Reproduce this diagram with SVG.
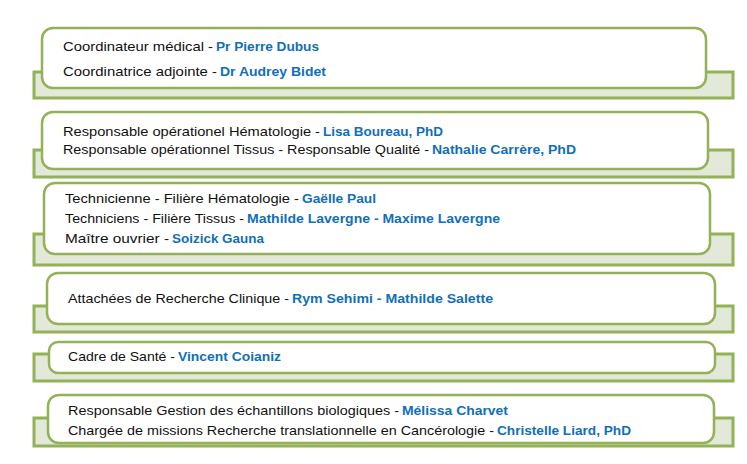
<svg xmlns="http://www.w3.org/2000/svg" width="747" height="464" viewBox="0 0 747 464">
<style>
.back{fill:#E3E9D8;stroke:#93B157;stroke-width:3}
.front{fill:#FFFFFF;stroke:#93B157;stroke-width:2.5}
text{font-family:"Liberation Sans",Arial,sans-serif;font-size:13.5px;fill:#111111}
.b{font-weight:bold;fill:#106FBB}
</style>
<rect width="747" height="464" fill="#FFFFFF"/>
<g id="connectors"></g>
<g id="node1">
<rect class="back" x="34" y="72" width="699" height="26"/>
<rect class="front" x="42" y="28" width="664" height="60" rx="11"/>
<text x="63" y="51" textLength="150" lengthAdjust="spacingAndGlyphs">Coordinateur médical -</text>
<text class="b" x="216" y="51" textLength="103" lengthAdjust="spacingAndGlyphs">Pr Pierre Dubus</text>
<text x="63" y="76" textLength="154" lengthAdjust="spacingAndGlyphs">Coordinatrice adjointe -</text>
<text class="b" x="220" y="76" textLength="106" lengthAdjust="spacingAndGlyphs">Dr Audrey Bidet</text>
</g>
<g id="node2">
<rect class="back" x="34" y="150" width="699" height="27"/>
<rect class="front" x="42" y="112" width="666" height="57" rx="11"/>
<text x="63" y="136" textLength="257" lengthAdjust="spacingAndGlyphs">Responsable opérationel Hématologie -</text>
<text class="b" x="323" y="136" textLength="120" lengthAdjust="spacingAndGlyphs">Lisa Boureau, PhD</text>
<text x="63" y="154" textLength="366" lengthAdjust="spacingAndGlyphs">Responsable opérationnel Tissus - Responsable Qualité -</text>
<text class="b" x="432" y="154" textLength="144" lengthAdjust="spacingAndGlyphs">Nathalie Carrère, PhD</text>
</g>
<g id="node3">
<rect class="back" x="34" y="234" width="699" height="31"/>
<rect class="front" x="44" y="183" width="666" height="71" rx="11"/>
<text x="65" y="203" textLength="234" lengthAdjust="spacingAndGlyphs">Technicienne - Filière Hématologie -</text>
<text class="b" x="302" y="203" textLength="74" lengthAdjust="spacingAndGlyphs">Gaëlle Paul</text>
<text x="65" y="223" textLength="179" lengthAdjust="spacingAndGlyphs">Techniciens - Filière Tissus -</text>
<text class="b" x="247" y="223" textLength="253" lengthAdjust="spacingAndGlyphs">Mathilde Lavergne - Maxime Lavergne</text>
<text x="65" y="243" textLength="104" lengthAdjust="spacingAndGlyphs">Maître ouvrier -</text>
<text class="b" x="172" y="243" textLength="92" lengthAdjust="spacingAndGlyphs">Soizick Gauna</text>
</g>
<g id="node4">
<rect class="back" x="34" y="306" width="699" height="26"/>
<rect class="front" x="47" y="273" width="668" height="51" rx="11"/>
<text x="68" y="303" textLength="221" lengthAdjust="spacingAndGlyphs">Attachées de Recherche Clinique -</text>
<text class="b" x="292" y="303" textLength="201" lengthAdjust="spacingAndGlyphs">Rym Sehimi - Mathilde Salette</text>
</g>
<g id="node5">
<rect class="back" x="34" y="354" width="699" height="27"/>
<rect class="front" x="49" y="342" width="666" height="31" rx="9"/>
<text x="68" y="361" textLength="107" lengthAdjust="spacingAndGlyphs">Cadre de Santé -</text>
<text class="b" x="178" y="361" textLength="103" lengthAdjust="spacingAndGlyphs">Vincent Coianiz</text>
</g>
<g id="node6">
<rect class="back" x="34" y="418" width="699" height="28"/>
<rect class="front" x="48" y="395" width="666" height="48" rx="11"/>
<text x="68" y="415" textLength="331" lengthAdjust="spacingAndGlyphs">Responsable Gestion des échantillons biologiques -</text>
<text class="b" x="402" y="415" textLength="106" lengthAdjust="spacingAndGlyphs">Mélissa Charvet</text>
<text x="68" y="435" textLength="426" lengthAdjust="spacingAndGlyphs">Chargée de missions Recherche translationnelle en Cancérologie -</text>
<text class="b" x="497" y="435" textLength="134" lengthAdjust="spacingAndGlyphs">Christelle Liard, PhD</text>
</g>
</svg>
